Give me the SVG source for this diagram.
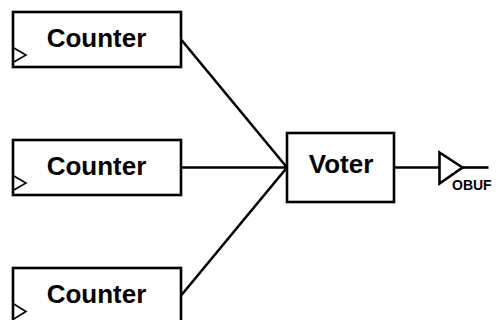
<svg xmlns="http://www.w3.org/2000/svg" width="498" height="320" viewBox="0 0 498 320">
<style>
.box{fill:#fff;stroke:#000;stroke-width:2.6}
.clk{fill:none;stroke:#000;stroke-width:1.6}
.lbl{font-family:"Liberation Sans",Arial,sans-serif;font-weight:bold;font-size:26px;fill:#000}
.wire{fill:none;stroke:#000;stroke-width:2.6}
</style>
<rect width="498" height="320" fill="#fff"/>
<g id="connectors">
<line class="wire" x1="181.500" y1="40" x2="287" y2="167.500"/>
<line class="wire" x1="181.500" y1="167.500" x2="287" y2="167.500"/>
<line class="wire" x1="181.500" y1="295" x2="287" y2="167.500"/>
<line class="wire" x1="394" y1="167.500" x2="439.500" y2="167.500"/>
<line class="wire" x1="463" y1="167.500" x2="488.500" y2="167.500"/>
</g>
<g id="counter1">
<rect class="box" x="13" y="12" width="168" height="55"/>
<path class="clk" d="M13 47.500L26 55L13 62.500"/>
<text class="lbl" x="96.500" y="46.500" text-anchor="middle">Counter</text>
</g>
<g id="counter2">
<rect class="box" x="13" y="140" width="168" height="55"/>
<path class="clk" d="M13 175.500L26 183L13 190.500"/>
<text class="lbl" x="96.500" y="174.500" text-anchor="middle">Counter</text>
</g>
<g id="counter3">
<rect class="box" x="13" y="268" width="168" height="60"/>
<path class="clk" d="M13 303.500L26 311.500L13 319.500"/>
<text class="lbl" x="96.500" y="302.500" text-anchor="middle">Counter</text>
</g>
<g id="voter">
<rect class="box" x="287" y="133" width="107" height="69"/>
<text class="lbl" x="341" y="173" text-anchor="middle">Voter</text>
</g>
<g id="obuf">
<path d="M439.500 152.500L462.500 167.500L439.500 183.500Z" fill="#fff" stroke="#000" stroke-width="2.600"/>
<text x="452" y="189.500" font-family="Liberation Sans,Arial,sans-serif" font-weight="bold" font-size="14" fill="#000">OBUF</text>
</g>
</svg>
